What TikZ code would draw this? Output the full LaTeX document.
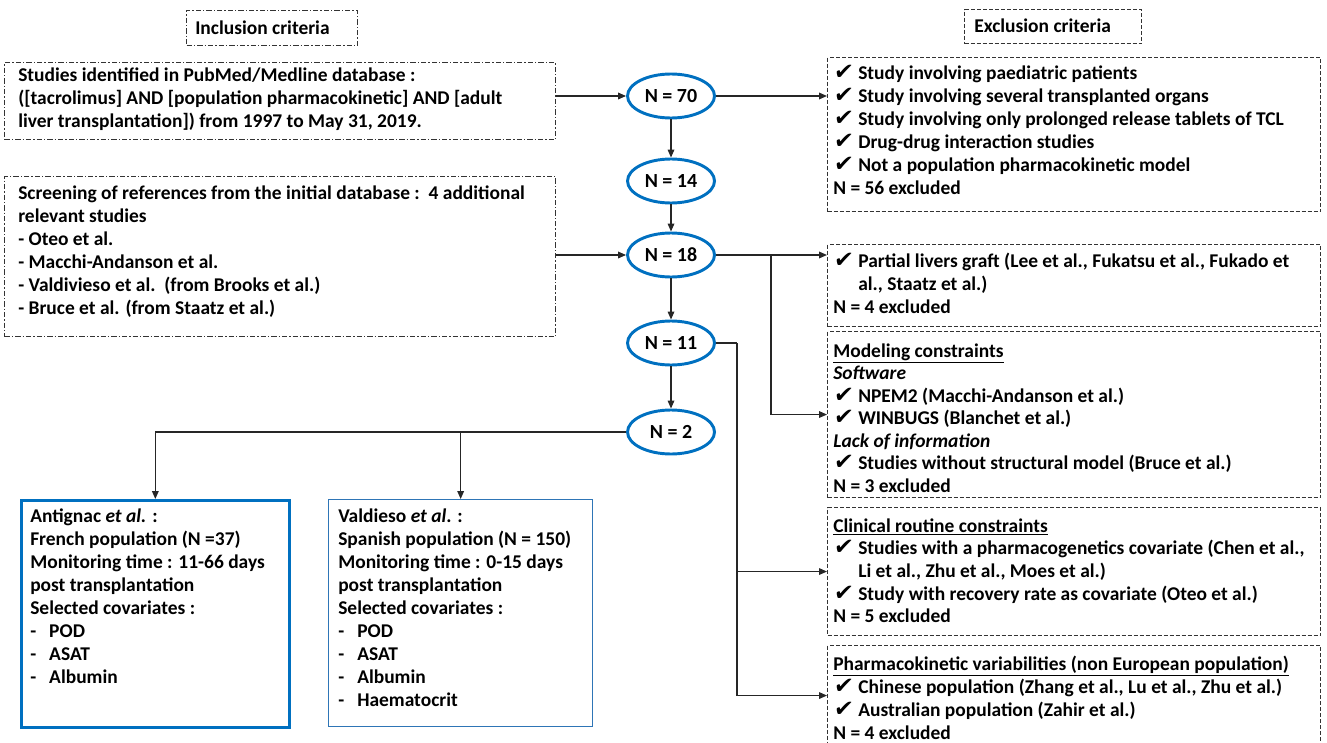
\documentclass[tikz,border=0pt]{standalone}
\usepackage{fontspec}
\setmainfont{Carlito}
\newfontfamily\ckfont{DejaVu Sans}[FakeSlant=0.12]
\usetikzlibrary{shapes.geometric,arrows.meta,calc}
\definecolor{ellblue}{RGB}{0,112,192}
\definecolor{boxblue}{RGB}{46,117,182}
\newcommand\ck{\makebox[18.75pt][l]{\ckfont\bfseries\fontsize{17}{17}\selectfont ✔}}
\newcommand\fr{\rule{0pt}{12pt}}
\newcommand\dsh{\makebox[14.25pt][l]{-}}
\tikzset{
  incbox/.style={rectangle, draw=black!80, line width=0.8pt, dash pattern=on 4pt off 1.5pt on 1pt off 1.5pt, anchor=north west, inner sep=0pt},
  excbox/.style={rectangle, draw=black!80, line width=0.8pt, dash pattern=on 3pt off 1.5pt, anchor=north west, inner sep=0pt},
  resbox/.style={rectangle, draw=ellblue, anchor=north west, inner sep=0pt},
  txt/.style={anchor=north west, inner sep=0pt, align=left, font=\bfseries\fontsize{14.6}{17.25}\selectfont},
  htxt/.style={anchor=west, inner sep=0pt, font=\bfseries\fontsize{14.6}{17.25}\selectfont},
  nell/.style={ellipse, draw=ellblue, line width=2.2pt, minimum width=65.25pt, minimum height=33pt, inner sep=0pt, font=\bfseries\fontsize{15}{18}\selectfont},
  arr/.style={draw=black!85, line width=0.9pt, -{Triangle[length=6pt,width=5pt]}},
  conn/.style={draw=black!85, line width=0.9pt},
}
\begin{document}
\begin{tikzpicture}[x=0.75pt,y=-0.75pt]
\useasboundingbox (0,0) rectangle (1327,742);
% headers
\node[incbox, minimum width=128.25pt, minimum height=26.25pt] (hinc) at (186,10) {};
\node[htxt] (hinct) at (195,27.5) {Inclusion criteria};
\node[excbox, minimum width=132.75pt, minimum height=25.5pt] (hexc) at (964,9) {};
\node[htxt] (hexct) at (974,26) {Exclusion criteria};
% left boxes
\node[incbox, minimum width=413.25pt, minimum height=57.75pt] (b1) at (4,62) {};
\node[txt] (t1) at (18,65) {\fr Studies identified in PubMed/Medline database :\\
([tacrolimus] AND [population pharmacokinetic] AND [adult\\
liver transplantation]) from 1997 to May 31, 2019.};
\node[incbox, minimum width=413.25pt, minimum height=120pt] (b2) at (4,176) {};
\node[txt] (t2) at (18,183) {\fr Screening of references from the initial database :\ \ 4 additional\\
relevant studies\\
- Oteo et al.\\
- Macchi-Andanson et al.\\
- Valdivieso et al.\ \ (from Brooks et al.)\\
- Bruce et al. (from Staatz et al.)};
% right boxes
\node[excbox, minimum width=369.75pt, minimum height=115.5pt] (e1) at (827,57) {};
\node[txt] (te1) at (833,63) {\fr\ck Study involving paediatric patients\\
\ck Study involving several transplanted organs\\
\ck Study involving only prolonged release tablets of TCL\\
\ck Drug-drug interaction studies\\
\ck Not a population pharmacokinetic model\\
N = 56 excluded};
\node[excbox, minimum width=369.75pt, minimum height=61.5pt] (e2) at (827,244) {};
\node[txt] (te2) at (833,251) {\fr\ck Partial livers graft (Lee et al., Fukatsu et al., Fukado et\\
\hspace*{18.75pt}al., Staatz et al.)\\
N = 4 excluded};
\node[excbox, minimum width=369.75pt, minimum height=124.5pt] (e3) at (827,331) {};
\node[txt, font=\bfseries\fontsize{14.6}{16.9}\selectfont] (te3) at (833,341) {\fr\underline{Modeling constraints}\\
\textit{Software}\\
\ck NPEM2 (Macchi-Andanson et al.)\\
\ck WINBUGS (Blanchet et al.)\\
\textit{Lack of information}\\
\ck Studies without structural model (Bruce et al.)\\
N = 3 excluded};
\node[excbox, minimum width=369.75pt, minimum height=96pt] (e4) at (827,507) {};
\node[txt, font=\bfseries\fontsize{14.6}{17}\selectfont] (te4) at (833,516) {\fr\underline{Clinical routine constraints}\\
\ck Studies with a pharmacogenetics covariate (Chen et al.,\\
\hspace*{18.75pt}Li et al., Zhu et al., Moes et al.)\\
\ck Study with recovery rate as covariate (Oteo et al.)\\
N = 5 excluded};
\node[excbox, minimum width=369.75pt, minimum height=75pt] (e5) at (827,645) {};
\node[txt] (te5) at (833,654) {\fr\underline{Pharmacokinetic variabilities (non European population)}\\
\ck Chinese population (Zhang et al., Lu et al., Zhu et al.)\\
\ck Australian population (Zahir et al.)\\
N = 4 excluded};
% result boxes
\node[resbox, line width=2pt, minimum width=201pt, minimum height=170.25pt] (ant) at (20,499) {};
\node[txt] (tant) at (30,506) {\fr Antignac \textit{et al.} :\\
French population (N =37)\\
Monitoring time : 11-66 days\\
post transplantation\\
Selected covariates :\\
\dsh POD\\
\dsh ASAT\\
\dsh Albumin};
\node[resbox, draw=boxblue, line width=1pt, minimum width=198pt, minimum height=170.25pt] (val) at (328,499) {};
\node[txt] (tval) at (338,506) {\fr Valdieso \textit{et al}. :\\
Spanish population (N = 150)\\
Monitoring time : 0-15 days\\
post transplantation\\
Selected covariates :\\
\dsh POD\\
\dsh ASAT\\
\dsh Albumin\\
\dsh Haematocrit};
% ellipses
\node[nell] (n70) at (671,96) {N = 70};
\node[nell] (n14) at (671,181) {N = 14};
\node[nell] (n18) at (671,255) {N = 18};
\node[nell] (n11) at (671,343) {N = 11};
\node[nell] (n2) at (671,432) {N = 2};
% connectors
\draw[arr] (b1.east |- n70.west) -- (n70.west);
\draw[arr] (n70.east) -- (e1.west |- n70.east);
\draw[arr] (n70.south) -- (n14.north);
\draw[arr] (n14.south) -- (n18.north);
\draw[arr] (b2.east |- n18.west) -- (n18.west);
\draw[arr] (n18.east) -- (e2.west |- n18.east);
\coordinate (j1) at (771,255);
\draw[arr] (j1) |- (e3.west);
\draw[arr] (n18.south) -- (n11.north);
\coordinate (j2) at (737,343);
\draw[conn] (n11.east) -- (j2);
\draw[arr] (j2) |- (e5.west);
\draw[arr] (j2 |- e4.west) -- (e4.west);
\draw[arr] (n11.south) -- (n2.north);
\draw[arr] (n2.west) -| (ant.north);
\draw[arr] (val.north |- n2.west) -- (val.north);
\end{tikzpicture}
\end{document}
